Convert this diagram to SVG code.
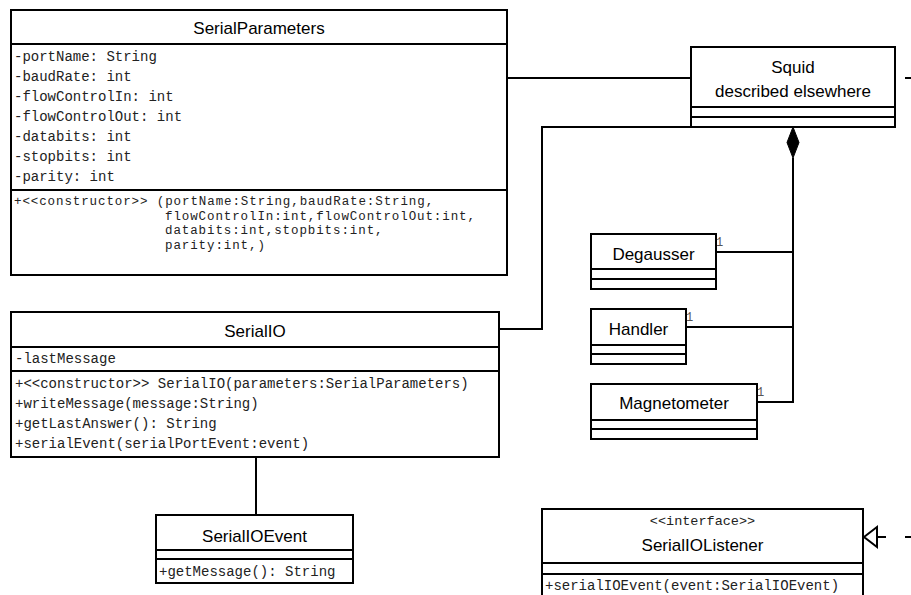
<svg xmlns="http://www.w3.org/2000/svg" width="911" height="595" viewBox="0 0 911 595">
<style>
.box{fill:#fff;stroke:#000;stroke-width:2}
.sep{stroke:#000;stroke-width:2}
.t{font-family:"Liberation Sans",Arial,sans-serif;font-size:17px;fill:#000;text-anchor:middle}
.m{font-family:"Liberation Mono","Courier New",monospace;font-size:14px;fill:#222}
.mc{font-family:"Liberation Mono","Courier New",monospace;font-size:12.5px;letter-spacing:0.9px;fill:#222}
.st{font-family:"Liberation Mono","Courier New",monospace;font-size:13.5px;fill:#222;text-anchor:middle}
.mul{font-family:"Liberation Mono","Courier New",monospace;font-size:12px;fill:#555}
.c{fill:none;stroke:#000;stroke-width:2}
.d{fill:none;stroke:#000;stroke-width:2;stroke-dasharray:9 19}
</style>
<rect width="911" height="595" fill="#fff"/>
<g id="connectors">
<line class="c" x1="507" y1="78" x2="691" y2="78"/>
<polyline class="c" points="499,329 542,329 542,127 691,127"/>
<polyline class="c" points="793,158 793,402 757,402"/>
<polygon points="793,127 799,142.5 793,158 787,142.5" fill="#000" stroke="#000" stroke-width="1"/>
<line class="c" x1="716" y1="252" x2="793" y2="252"/>
<line class="c" x1="686" y1="327" x2="793" y2="327"/>
<line class="c" x1="256" y1="457" x2="256" y2="515"/>
<line class="c" x1="905" y1="78" x2="911" y2="78"/>
<line class="d" x1="877" y1="537" x2="911" y2="537"/>
<polygon points="864,537 877,527 877,547" fill="#fff" stroke="#000" stroke-width="2"/>
<text class="mul" x="716" y="246">1</text>
<text class="mul" x="686" y="321">1</text>
<text class="mul" x="757" y="396">1</text>
</g>
<g id="SerialParameters">
<rect class="box" x="11" y="10" width="496" height="265"/>
<line class="sep" x1="11" y1="44" x2="507" y2="44"/>
<line class="sep" x1="11" y1="190" x2="507" y2="190"/>
<text class="t" x="259" y="34">SerialParameters</text>
<text class="m" x="14" y="61">-portName: String</text>
<text class="m" x="14" y="81">-baudRate: int</text>
<text class="m" x="14" y="101">-flowControlIn: int</text>
<text class="m" x="14" y="121">-flowControlOut: int</text>
<text class="m" x="14" y="141">-databits: int</text>
<text class="m" x="14" y="161">-stopbits: int</text>
<text class="m" x="14" y="181">-parity: int</text>
<text class="mc" x="14" y="205">+&lt;&lt;constructor&gt;&gt; (portName:String,baudRate:String,</text>
<text class="mc" x="165" y="219.5">flowControlIn:int,flowControlOut:int,</text>
<text class="mc" x="165" y="234">databits:int,stopbits:int,</text>
<text class="mc" x="165" y="248.5">parity:int,)</text>
</g>
<g id="Squid">
<rect class="box" x="691" y="47" width="204" height="80"/>
<line class="sep" x1="691" y1="107" x2="895" y2="107"/>
<line class="sep" x1="691" y1="117" x2="895" y2="117"/>
<text class="t" x="793" y="73">Squid</text>
<text class="t" x="793" y="97">described elsewhere</text>
</g>
<g id="Degausser">
<rect class="box" x="591" y="234" width="125" height="55"/>
<line class="sep" x1="591" y1="269" x2="716" y2="269"/>
<line class="sep" x1="591" y1="279" x2="716" y2="279"/>
<text class="t" x="653.5" y="260">Degausser</text>
</g>
<g id="Handler">
<rect class="box" x="591" y="309" width="95" height="55"/>
<line class="sep" x1="591" y1="345" x2="686" y2="345"/>
<line class="sep" x1="591" y1="354" x2="686" y2="354"/>
<text class="t" x="638.5" y="335">Handler</text>
</g>
<g id="Magnetometer">
<rect class="box" x="591" y="384" width="166" height="55"/>
<line class="sep" x1="591" y1="420" x2="757" y2="420"/>
<line class="sep" x1="591" y1="429" x2="757" y2="429"/>
<text class="t" x="674" y="409">Magnetometer</text>
</g>
<g id="SerialIO">
<rect class="box" x="11" y="312" width="488" height="145"/>
<line class="sep" x1="11" y1="347" x2="499" y2="347"/>
<line class="sep" x1="11" y1="371" x2="499" y2="371"/>
<text class="t" x="255" y="337">SerialIO</text>
<text class="m" x="15" y="363">-lastMessage</text>
<text class="m" x="15" y="388">+&lt;&lt;constructor&gt;&gt; SerialIO(parameters:SerialParameters)</text>
<text class="m" x="15" y="408">+writeMessage(message:String)</text>
<text class="m" x="15" y="428">+getLastAnswer(): String</text>
<text class="m" x="15" y="448">+serialEvent(serialPortEvent:event)</text>
</g>
<g id="SerialIOEvent">
<rect class="box" x="156" y="515" width="197" height="68"/>
<line class="sep" x1="156" y1="550" x2="353" y2="550"/>
<line class="sep" x1="156" y1="559" x2="353" y2="559"/>
<text class="t" x="254.5" y="542">SerialIOEvent</text>
<text class="m" x="159" y="576">+getMessage(): String</text>
</g>
<g id="SerialIOListener">
<rect class="box" x="542" y="509" width="321" height="100"/>
<line class="sep" x1="542" y1="563" x2="863" y2="563"/>
<line class="sep" x1="542" y1="574" x2="863" y2="574"/>
<text class="st" x="702.5" y="525">&lt;&lt;interface&gt;&gt;</text>
<text class="t" x="702.5" y="551">SerialIOListener</text>
<text class="m" x="545" y="590">+serialIOEvent(event:SerialIOEvent)</text>
</g>
</svg>
